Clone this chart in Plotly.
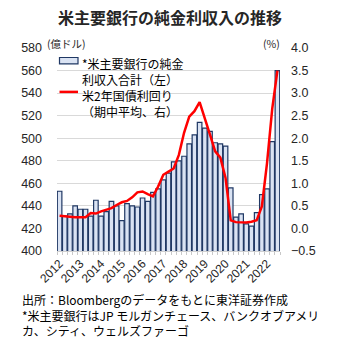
import plotly.graph_objects as go

# ---- data ----
years = [str(y) for y in range(2012, 2023)]
quarters = [f"{y}Q{q}" for y in range(2012, 2023) for q in range(1, 5)][:43]  # 2012Q1 - 2022Q3

nii = [453, 431, 433, 440, 437, 437, 431, 445, 431, 435, 444, 440,
       427, 442, 440, 439, 447, 444, 452, 455, 463, 469, 479, 480,
       484, 495, 503, 514, 509, 506, 496, 495, 493, 456, 430, 433,
       424, 422, 434, 450, 455, 497, 560]

yield2y = [0.28, 0.27, 0.25, 0.25, 0.25, 0.25, 0.34, 0.33, 0.38, 0.41, 0.45, 0.52,
           0.58, 0.61, 0.69, 0.80, 0.82, 0.76, 0.71, 0.93, 1.19, 1.26, 1.33, 1.63,
           2.12, 2.48, 2.60, 2.80, 2.46, 2.08, 1.71, 1.57, 1.12, 0.18, 0.14, 0.14,
           0.13, 0.15, 0.18, 0.49, 1.45, 2.65, 3.50]

title = "米主要銀行の純金利収入の推移"
legend_bar = ["*米主要銀行の純金", "利収入合計（左）"]
legend_line = ["米2年国債利回り", "（期中平均、右）"]
notes = ["出所：Bloombergのデータをもとに東洋証券作成",
         "*米主要銀行はJP モルガンチェース、バンクオブアメリ",
         "カ、シティ、ウェルズファーゴ"]

# ---- layout geometry (pixels) ----
W, H = 340, 338
L, R, T, B = 57, 60, 48, 86.5
PW, PH = W - L - R, H - T - B

def px(x):
    return (x - L) / PW

def py(y):
    return 1 - (y - T) / PH

idx = list(range(len(quarters)))
tickvals = [quarters.index(y + "Q1") for y in years]

CJK = "Noto Sans CJK JP"
NUM = "Liberation Sans"
BAR_FILL = "#dae3f3"
BAR_EDGE = "#203864"

fig = go.Figure()
fig.add_trace(go.Bar(x=idx, y=nii, marker=dict(color=BAR_FILL, line=dict(color=BAR_EDGE, width=1.2)),
                     showlegend=False))
fig.add_trace(go.Scatter(x=idx, y=yield2y, yaxis="y2", mode="lines",
                         line=dict(color="#ff0000", width=2.5), showlegend=False))

annotations = [
    dict(text=title, x=px(170), y=py(17), xanchor="center", yanchor="middle",
         font=dict(family=CJK, size=16, color="#262626", weight="bold")),
    dict(text="(億ドル)", x=px(45), y=py(43), xanchor="left", yanchor="middle",
         font=dict(family=CJK, size=10.5, color="#262626")),
    dict(text="(%)", x=px(282), y=py(43), xanchor="right", yanchor="middle",
         font=dict(family=CJK, size=10.5, color="#262626")),
    dict(text="<br>".join(legend_bar), x=px(80), y=py(53), xanchor="left", yanchor="top",
         align="left", font=dict(family=CJK, size=12, color="#000")),
    dict(text="<br>".join(legend_line), x=px(80), y=py(85.5), xanchor="left", yanchor="top",
         align="left", font=dict(family=CJK, size=12, color="#000")),
    dict(text="<br>".join(notes), x=px(20), y=py(289.5), xanchor="left", yanchor="top",
         align="left", font=dict(family=CJK, size=12, color="#000")),
]
for a in annotations:
    a.update(xref="paper", yref="paper", showarrow=False)

shapes = [
    dict(type="rect", xref="paper", yref="paper", x0=px(59.5), x1=px(78), y0=py(57.5), y1=py(64),
         fillcolor=BAR_FILL, line=dict(color=BAR_EDGE, width=1.2)),
    dict(type="line", xref="paper", yref="paper", x0=px(59.5), x1=px(78), y0=py(92), y1=py(92),
         line=dict(color="#ff0000", width=2.5)),
]

fig.update_layout(
    width=W, height=H,
    margin=dict(l=L, r=R, t=T, b=B, pad=0),
    paper_bgcolor="white", plot_bgcolor="white",
    bargap=0.12,
    annotations=annotations, shapes=shapes,
    xaxis=dict(range=[-0.5, len(idx) - 0.5], tickvals=tickvals, ticktext=years, tickangle=-45,
               tickfont=dict(family=NUM, size=12, color="#262626"), ticks="", showgrid=False,
               showline=True, linecolor="#d0d0d0", linewidth=1, zeroline=False,
               minor=dict(ticks="outside", dtick=1, tick0=0.5, ticklen=3, tickcolor="#c8c8c8", showgrid=False)),
    yaxis=dict(range=[400, 580], dtick=20, tickfont=dict(family=NUM, size=12.5, color="#262626"),
               gridcolor="#d9d9d9", gridwidth=1.3, zeroline=False, showline=False,
               ticklabelstandoff=14),
    yaxis2=dict(range=[-0.5, 4.0], dtick=0.5, tickformat=".1f", overlaying="y", side="right",
                tickfont=dict(family=NUM, size=12.5, color="#262626"), showgrid=False, zeroline=False,
                ticklabelstandoff=10),
)

fig.write_html("out.html")
